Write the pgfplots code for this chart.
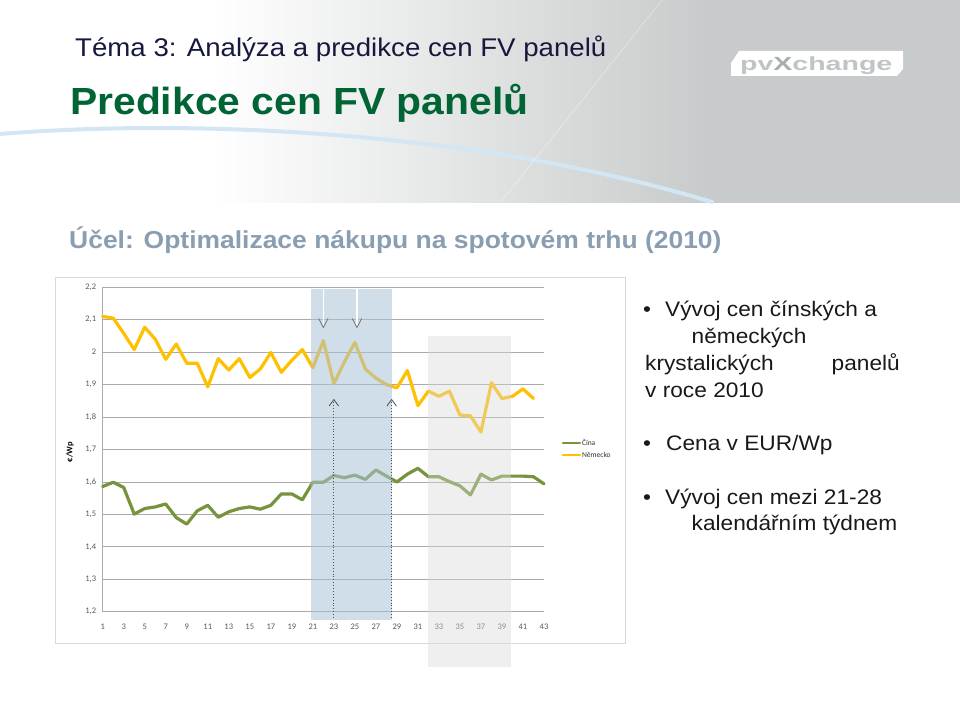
\documentclass[border=0pt]{standalone}
\usepackage{pgfplots}
\pgfplotsset{compat=1.18}
\usepackage{fontspec}
\usepackage{graphicx}
\setmainfont{Liberation Sans}
\newfontfamily\chartfont{Carlito}

\definecolor{cnGreen}{RGB}{119,147,60}
\definecolor{deYellow}{RGB}{255,192,0}
\definecolor{hdrGray}{RGB}{200,203,203}
\definecolor{temaBlue}{RGB}{22,24,62}
\definecolor{titleGreen}{RGB}{0,100,52}
\definecolor{ucelGray}{RGB}{138,158,178}
\definecolor{bandBlue}{RGB}{170,195,215}
\definecolor{tickGray}{RGB}{89,89,89}
\definecolor{gridGray}{RGB}{170,170,170}
\definecolor{swoosh}{RGB}{210,230,244}
\definecolor{logoGray}{RGB}{192,196,198}
\definecolor{logoDark}{RGB}{170,174,176}
\definecolor{arrowGray}{RGB}{80,80,80}

\pgfdeclarehorizontalshading{hdr}{100bp}{color(0bp)=(white); color(25bp)=(white);
  color(36bp)=(white); color(62bp)=(hdrGray); color(75bp)=(hdrGray); color(100bp)=(hdrGray)}

\newcommand\sx[1]{\scalebox{1.08}[1]{#1}}

% weekly prices, EUR/Wp
\pgfplotstableread{
wk price
1 1.586
2 1.599
3 1.583
4 1.501
5 1.518
6 1.523
7 1.532
8 1.490
9 1.470
10 1.511
11 1.528
12 1.491
13 1.508
14 1.518
15 1.523
16 1.516
17 1.528
18 1.563
19 1.563
20 1.545
21 1.599
22 1.599
23 1.620
24 1.613
25 1.621
26 1.608
27 1.637
28 1.618
29 1.600
30 1.624
31 1.642
32 1.616
33 1.616
34 1.601
35 1.588
36 1.560
37 1.624
38 1.606
39 1.618
40 1.618
41 1.618
42 1.616
43 1.594
}\cina

\pgfplotstableread{
wk price
1 2.110
2 2.105
3 2.058
4 2.008
5 2.077
6 2.040
7 1.978
8 2.025
9 1.966
10 1.966
11 1.893
12 1.980
13 1.945
14 1.980
15 1.922
16 1.948
17 1.999
18 1.938
19 1.975
20 2.008
21 1.952
22 2.036
23 1.903
24 1.970
25 2.030
26 1.948
27 1.920
28 1.900
29 1.890
30 1.943
31 1.835
32 1.880
33 1.864
34 1.880
35 1.806
36 1.804
37 1.754
38 1.906
39 1.857
40 1.864
41 1.887
42 1.857
}\nemecko

\begin{document}
\begin{tikzpicture}
% slide background, pixel coordinates (y downwards)
\begin{scope}[x=1pt,y=-1pt,shift={(0pt,718pt)}]
  \path[use as bounding box] (0,0) rectangle (960,718);
  \fill[white] (0,0) rectangle (960,718);
  \shade[shading=hdr] (0,0) rectangle (960,203);
  \draw[swoosh, line width=4pt, line cap=round] (0,134) .. controls (200,118) and (480,132) .. (712,202);
  \draw[white, opacity=0.35, line width=0.8pt] (662,0) -- (500,203);
  % logo
  \fill[white] (739,51) -- (903,51) -- (903,69) -- (897,76) -- (731,76) -- (731,63) -- cycle;
  \node[anchor=base west, inner sep=0, text=logoGray,
        font=\bfseries\fontsize{19}{19}\selectfont] at (740,71)
        {\scalebox{1.5}[1]{pv\textcolor{logoDark}{X}change}};
  % chart frame
  \draw[fill=white, draw=black!15, line width=0.8pt] (55,277) rectangle (625,643);
\end{scope}

\begin{axis}[
  at={(102.7pt,106.3pt)}, anchor=south west,
  width=441.3pt, height=324.4pt, scale only axis,
  xmin=1, xmax=43, ymin=1.2, ymax=2.2,
  xtick={1,3,...,43},
  ytick={1.2,1.3,1.4,1.5,1.6,1.7,1.8,1.9,2.0,2.1,2.2},
  yticklabels={{1,2},{1,3},{1,4},{1,5},{1,6},{1,7},{1,8},{1,9},2,{2,1},{2,2}},
  ymajorgrids,
  major grid style={draw=gridGray, line width=0.7pt},
  axis lines*=left,
  axis line style={draw=gridGray, line width=0.7pt, -},
  major tick length=0pt,
  tick label style={font=\chartfont\fontsize{8.5}{10}\selectfont, text=tickGray},
  xticklabel style={yshift=-9pt},
  yticklabel style={xshift=-3pt},
  /pgf/number format/assume math mode=true,
  clip=false,
  legend style={at={(1.04,0.535)}, anchor=north west, draw=none, fill=none,
    font=\chartfont\fontsize{7.5}{9}\selectfont, text=black!80,
    row sep=3pt, inner sep=0pt,
    nodes={inner sep=1pt}},
  legend cell align=left,
  legend image code/.code={\draw[#1, line width=2.2pt] (0pt,0pt) -- (17pt,0pt);},
]
\addplot[color=cnGreen, line width=3.2pt, line join=round, line cap=round] table[x=wk, y=price] {\cina};
\addplot[color=deYellow, line width=3.2pt, line join=round, line cap=round] table[x=wk, y=price] {\nemecko};
\legend{Čína, Německo}

\node[rotate=90, font=\chartfont\bfseries\fontsize{8.5}{10}\selectfont, text=black]
  at (rel axis cs:-0.074,0.492) {€/Wp};

% highlighted weeks 21-28
\fill[bandBlue, opacity=0.55] (axis cs:20.8,1.175) rectangle (axis cs:28.56,2.194);
% faded weeks 32-39
\fill[black!15, opacity=0.4] (axis cs:32,1.03) rectangle (axis cs:39.85,2.05);

% white down arrows
\draw[white, line width=1.3pt] (axis cs:22,2.194) -- (axis cs:22,2.078);
\draw[arrowGray!80, line width=0.8pt] (axis cs:21.55,2.104) -- (axis cs:22,2.076) -- (axis cs:22.45,2.104);
\draw[white, line width=1.3pt] (axis cs:25.2,2.194) -- (axis cs:25.2,2.078);
\draw[arrowGray!80, line width=0.8pt] (axis cs:24.75,2.104) -- (axis cs:25.2,2.076) -- (axis cs:25.65,2.104);
% dark up arrows with dotted drop lines
\draw[arrowGray, line width=0.9pt, dotted] (axis cs:23,1.845) -- (axis cs:23,1.175);
\draw[arrowGray, line width=0.8pt] (axis cs:22.55,1.834) -- (axis cs:23,1.854) -- (axis cs:23.45,1.834);
\draw[arrowGray, line width=0.9pt, dotted] (axis cs:28.5,1.845) -- (axis cs:28.5,1.175);
\draw[arrowGray, line width=0.8pt] (axis cs:28.05,1.834) -- (axis cs:28.5,1.854) -- (axis cs:28.95,1.834);
\end{axis}

% slide texts
\begin{scope}[x=1pt,y=-1pt,shift={(0pt,718pt)}, every node/.style={anchor=base west, inner sep=0}]
  \node[text=temaBlue, font=\fontsize{25.6}{30}\selectfont] at (75,56.7) {\sx{Téma 3: Analýza a predikce cen FV panelů}};
  \node[text=titleGreen, font=\bfseries\fontsize{37.8}{44}\selectfont] at (70,115) {\sx{Predikce cen FV panelů}};
  \node[text=ucelGray, font=\bfseries\fontsize{24.5}{30}\selectfont] at (69,248.5) {\sx{Účel: Optimalizace nákupu na spotovém trhu (2010)}};
  \begin{scope}[every node/.append style={text=black!90, font=\fontsize{21}{25}\selectfont}]
    \node at (643,316.5) {\sx{•}};
    \node at (665,316.5) {\sx{Vývoj cen čínských a}};
    \node at (691.5,343.3) {\sx{německých}};
    \node at (645,370.7) {\sx{krystalických}};
    \node at (831.5,370.7) {\sx{panelů}};
    \node at (645,397.3) {\sx{v roce 2010}};
    \node at (643,450) {\sx{•}};
    \node at (666,450) {\sx{Cena v EUR/Wp}};
    \node at (643,504) {\sx{•}};
    \node at (665,504) {\sx{Vývoj cen mezi 21-28}};
    \node at (691.5,530.7) {\sx{kalendářním týdnem}};
  \end{scope}
\end{scope}
\end{tikzpicture}
\end{document}
